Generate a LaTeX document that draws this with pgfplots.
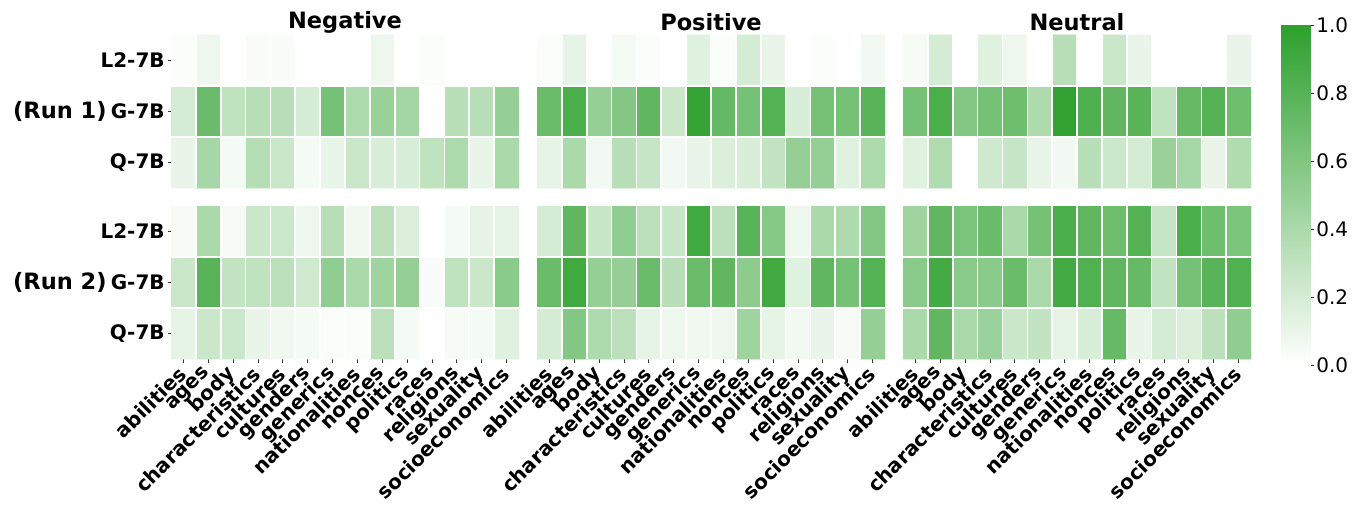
\documentclass[border=0pt]{standalone}
\usepackage{fontspec}
\setmainfont{DejaVu Sans}
\usepackage{pgfplots}
\pgfplotsset{compat=1.18}
\newcommand{\hmgrid}{%
  \pgfplotsinvokeforeach{0.5,1.5,2.5,3.5,4.5,5.5,6.5,7.5,8.5,9.5,10.5,11.5,12.5}{\draw[white,line width=0.8pt] (axis cs:##1,-0.5) -- (axis cs:##1,2.5);}
  \draw[white,line width=0.8pt] (axis cs:-0.5,0.5) -- (axis cs:13.5,0.5);
  \draw[white,line width=0.8pt] (axis cs:-0.5,1.5) -- (axis cs:13.5,1.5);
}
\pgfplotsset{
  hm/.style={
    scale only axis, width=174pt, height=76.5pt, anchor=south west,
    xmin=-0.5, xmax=13.5, ymin=-0.5, ymax=2.5, y dir=reverse,
    enlargelimits=false, axis line style={draw=none},
    colormap={wg}{rgb255=(255,255,255) rgb255=(44,160,44)},
    point meta min=0, point meta max=1,
    tick align=outside, major tick length=1.75pt,
    tick style={line width=0.4pt, black!80},
    xtick=\empty, ytick=\empty, xtick pos=bottom, ytick pos=left,
    tick label style={font=\fontsize{10}{12}\selectfont\bfseries},
    yticklabel style={inner sep=1.2pt},
    xticklabel style={rotate=45, anchor=east, inner sep=1pt, xshift=-2pt, yshift=-2.5pt},
  },
  ylab/.style={ytick={0,1,2}, yticklabels={L2-7B,G-7B,Q-7B}},
  xlab/.style={xtick={0,...,13}, xticklabels={abilities,ages,body,characteristics,cultures,genders,generics,nationalities,nonces,politics,races,religions,sexuality,socioeconomics}},
  mp/.style={matrix plot*, mesh/cols=14, point meta=explicit},
}
\begin{document}
\begin{tikzpicture}
\useasboundingbox (0,0) rectangle (682pt,252pt);
% ---------------- Run 1 ----------------
\begin{axis}[hm, ylab, at={(85.5pt,158pt)}]
\addplot[mp] coordinates {
(0,0)[0.02] (1,0)[0.08] (2,0)[0] (3,0)[0.03] (4,0)[0.03] (5,0)[0.01] (6,0)[0] (7,0)[0] (8,0)[0.08] (9,0)[0] (10,0)[0.02] (11,0)[0] (12,0)[0] (13,0)[0.01]
(0,1)[0.20] (1,1)[0.70] (2,1)[0.30] (3,1)[0.33] (4,1)[0.33] (5,1)[0.20] (6,1)[0.65] (7,1)[0.38] (8,1)[0.48] (9,1)[0.43] (10,1)[0.01] (11,1)[0.33] (12,1)[0.33] (13,1)[0.50]
(0,2)[0.10] (1,2)[0.42] (2,2)[0.05] (3,2)[0.35] (4,2)[0.25] (5,2)[0.05] (6,2)[0.10] (7,2)[0.25] (8,2)[0.18] (9,2)[0.18] (10,2)[0.30] (11,2)[0.38] (12,2)[0.10] (13,2)[0.40]
};
\hmgrid
\end{axis}
\begin{axis}[hm, at={(268.5pt,158pt)}]
\addplot[mp] coordinates {
(0,0)[0.02] (1,0)[0.12] (2,0)[0] (3,0)[0.05] (4,0)[0.02] (5,0)[0] (6,0)[0.15] (7,0)[0.02] (8,0)[0.20] (9,0)[0.10] (10,0)[0] (11,0)[0.02] (12,0)[0] (13,0)[0.06]
(0,1)[0.70] (1,1)[0.85] (2,1)[0.50] (3,1)[0.58] (4,1)[0.75] (5,1)[0.25] (6,1)[0.95] (7,1)[0.73] (8,1)[0.65] (9,1)[0.80] (10,1)[0.18] (11,1)[0.65] (12,1)[0.65] (13,1)[0.78]
(0,2)[0.12] (1,2)[0.40] (2,2)[0.06] (3,2)[0.33] (4,2)[0.27] (5,2)[0.06] (6,2)[0.10] (7,2)[0.17] (8,2)[0.18] (9,2)[0.28] (10,2)[0.50] (11,2)[0.50] (12,2)[0.15] (13,2)[0.38]
};
\hmgrid
\end{axis}
\begin{axis}[hm, at={(451.5pt,158pt)}]
\addplot[mp] coordinates {
(0,0)[0.04] (1,0)[0.20] (2,0)[0] (3,0)[0.15] (4,0)[0.08] (5,0)[0] (6,0)[0.33] (7,0)[0] (8,0)[0.25] (9,0)[0.10] (10,0)[0.01] (11,0)[0] (12,0)[0] (13,0)[0.10]
(0,1)[0.65] (1,1)[0.85] (2,1)[0.58] (3,1)[0.65] (4,1)[0.68] (5,1)[0.38] (6,1)[0.97] (7,1)[0.83] (8,1)[0.75] (9,1)[0.78] (10,1)[0.30] (11,1)[0.72] (12,1)[0.80] (13,1)[0.68]
(0,2)[0.15] (1,2)[0.37] (2,2)[0] (3,2)[0.23] (4,2)[0.27] (5,2)[0.10] (6,2)[0.06] (7,2)[0.33] (8,2)[0.24] (9,2)[0.20] (10,2)[0.48] (11,2)[0.42] (12,2)[0.10] (13,2)[0.37]
};
\hmgrid
\end{axis}
% ---------------- Run 2 ----------------
\begin{axis}[hm, ylab, xlab, at={(85.5pt,72.5pt)}]
\addplot[mp] coordinates {
(0,0)[0.04] (1,0)[0.40] (2,0)[0.04] (3,0)[0.25] (4,0)[0.24] (5,0)[0.08] (6,0)[0.33] (7,0)[0.07] (8,0)[0.32] (9,0)[0.17] (10,0)[0] (11,0)[0.05] (12,0)[0.12] (13,0)[0.12]
(0,1)[0.25] (1,1)[0.78] (2,1)[0.28] (3,1)[0.30] (4,1)[0.32] (5,1)[0.22] (6,1)[0.52] (7,1)[0.40] (8,1)[0.45] (9,1)[0.50] (10,1)[0.03] (11,1)[0.30] (12,1)[0.25] (13,1)[0.55]
(0,2)[0.12] (1,2)[0.25] (2,2)[0.24] (3,2)[0.10] (4,2)[0.07] (5,2)[0.05] (6,2)[0.02] (7,2)[0.02] (8,2)[0.32] (9,2)[0.05] (10,2)[0] (11,2)[0.04] (12,2)[0.05] (13,2)[0.15]
};
\hmgrid
\end{axis}
\begin{axis}[hm, xlab, at={(268.5pt,72.5pt)}]
\addplot[mp] coordinates {
(0,0)[0.20] (1,0)[0.75] (2,0)[0.26] (3,0)[0.52] (4,0)[0.32] (5,0)[0.26] (6,0)[0.90] (7,0)[0.32] (8,0)[0.78] (9,0)[0.57] (10,0)[0.08] (11,0)[0.40] (12,0)[0.38] (13,0)[0.58]
(0,1)[0.70] (1,1)[0.90] (2,1)[0.50] (3,1)[0.50] (4,1)[0.70] (5,1)[0.33] (6,1)[0.70] (7,1)[0.75] (8,1)[0.53] (9,1)[0.90] (10,1)[0.15] (11,1)[0.75] (12,1)[0.65] (13,1)[0.80]
(0,2)[0.20] (1,2)[0.58] (2,2)[0.38] (3,2)[0.32] (4,2)[0.12] (5,2)[0.08] (6,2)[0.07] (7,2)[0.08] (8,2)[0.45] (9,2)[0.12] (10,2)[0.06] (11,2)[0.10] (12,2)[0.04] (13,2)[0.50]
};
\hmgrid
\end{axis}
\begin{axis}[hm, xlab, at={(451.5pt,72.5pt)}]
\addplot[mp] coordinates {
(0,0)[0.45] (1,0)[0.75] (2,0)[0.62] (3,0)[0.70] (4,0)[0.40] (5,0)[0.65] (6,0)[0.85] (7,0)[0.75] (8,0)[0.68] (9,0)[0.80] (10,0)[0.27] (11,0)[0.85] (12,0)[0.68] (13,0)[0.62]
(0,1)[0.55] (1,1)[0.88] (2,1)[0.55] (3,1)[0.55] (4,1)[0.70] (5,1)[0.40] (6,1)[0.88] (7,1)[0.82] (8,1)[0.75] (9,1)[0.72] (10,1)[0.28] (11,1)[0.65] (12,1)[0.78] (13,1)[0.82]
(0,2)[0.40] (1,2)[0.75] (2,2)[0.40] (3,2)[0.47] (4,2)[0.25] (5,2)[0.28] (6,2)[0.12] (7,2)[0.18] (8,2)[0.72] (9,2)[0.10] (10,2)[0.20] (11,2)[0.17] (12,2)[0.32] (13,2)[0.52]
};
\hmgrid
\end{axis}
% ---------------- colorbar ----------------
\begin{axis}[at={(640.5pt,69.5pt)}, anchor=south west, scale only axis,
  width=14.5pt, height=170pt, xmin=0, xmax=1, ymin=0, ymax=1,
  enlargelimits=false, axis line style={draw=none},
  colormap={wg}{rgb255=(255,255,255) rgb255=(44,160,44)},
  point meta min=0, point meta max=1,
  xtick=\empty, ytick={0,0.2,0.4,0.6,0.8,1}, ytick pos=right, yticklabel pos=right,
  tick align=outside, major tick length=1.75pt, tick style={line width=0.4pt, black!80},
  yticklabel style={font=\fontsize{10}{12}\selectfont, inner sep=1.2pt,
    /pgf/number format/.cd, fixed, fixed zerofill, precision=1, assume math mode=true}]
\addplot[surf, shader=interp, point meta=y, mesh/cols=2] coordinates {(0,0) (1,0) (0,1) (1,1)};
\end{axis}
% ---------------- titles and run labels ----------------
\node[font=\fontsize{11.25}{13}\selectfont\bfseries] at (172.5pt,241pt) {Negative};
\node[font=\fontsize{11.25}{13}\selectfont\bfseries] at (355.5pt,241pt) {Positive};
\node[font=\fontsize{11.25}{13}\selectfont\bfseries] at (538.5pt,241pt) {Neutral};
\node[font=\fontsize{11.25}{13}\selectfont\bfseries, anchor=east, inner sep=0pt] at (53.5pt,196.25pt) {(Run 1)};
\node[font=\fontsize{11.25}{13}\selectfont\bfseries, anchor=east, inner sep=0pt] at (53.5pt,111pt) {(Run 2)};
\end{tikzpicture}
\end{document}
